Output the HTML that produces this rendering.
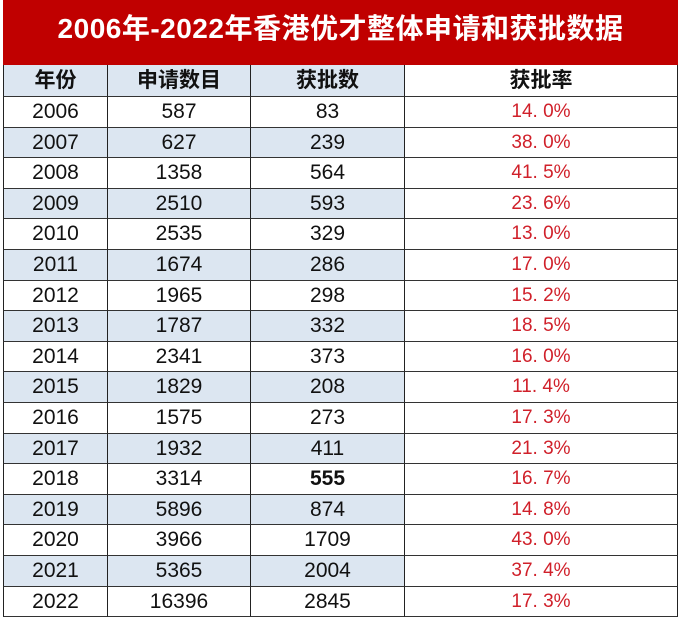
<!DOCTYPE html>
<html><head><meta charset="utf-8"><style>
body{margin:0;width:680px;height:621px;background:#fff;overflow:hidden;font-family:"Liberation Sans","Noto Sans CJK SC",sans-serif;}
#title{position:absolute;left:3px;top:0;width:675px;height:65px;background:#c00000;color:#fff;font-size:28px;line-height:58px;text-align:center;font-weight:bold;letter-spacing:0.5px;}
.c{position:absolute;box-sizing:border-box;text-align:center;font-size:21px;color:#111;border-right:1px solid #222;border-bottom:1px solid #333;}
.h{font-weight:bold;font-size:21px;}
.r{color:#d0202a;font-size:19px;}
</style></head><body>
<div id="title">2006年-2022年香港优才整体申请和获批数据</div>
<div id="t"></div>
<script>
const years=[2006,2007,2008,2009,2010,2011,2012,2013,2014,2015,2016,2017,2018,2019,2020,2021,2022];
const applications=[587,627,1358,2510,2535,1674,1965,1787,2341,1829,1575,1932,3314,5896,3966,5365,16396];
const approvals=[83,239,564,593,329,286,298,332,373,208,273,411,555,874,1709,2004,2845];
const rates=["14.0%","38.0%","41.5%","23.6%","13.0%","17.0%","15.2%","18.5%","16.0%","11.4%","17.3%","21.3%","16.7%","14.8%","43.0%","37.4%","17.3%"];
const headers=["年份","申请数目","获批数","获批率"];
const xs=[3,108,251,405,678];
const t=document.getElementById('t');
function cell(i,y,h,txt,cls,bg,name){
  const d=document.createElement('div');
  
  
  d.className='c '+cls;
  d.style.left=xs[i]+'px';d.style.top=y+'px';d.style.width=(xs[i+1]-xs[i])+'px';d.style.height=h+'px';d.style.lineHeight=(h-1)+'px';
  if(i===0)d.style.borderLeft='1px solid #222';
  d.style.background=bg;d.textContent=txt;t.appendChild(d);
}
headers.forEach((h,i)=>cell(i,65,32,h,'h',i<3?'#dce6f1':'#fff','header-'+i));
const rh=30.6;
years.forEach((y,k)=>{
  const top=Math.round(97+k*rh),h=Math.round(97+(k+1)*rh)-top;
  const bg=k%2?'#dce6f1':'#fff';
  cell(0,top,h,y,'',bg,'year-'+y);
  cell(1,top,h,applications[k],'',bg,'applications-'+y);
  cell(2,top,h,approvals[k],y===2018?'h':'',bg,'approvals-'+y);
  cell(3,top,h,rates[k].replace('.','. '),'r','#fff','rate-'+y);
});
</script>
</body></html>
